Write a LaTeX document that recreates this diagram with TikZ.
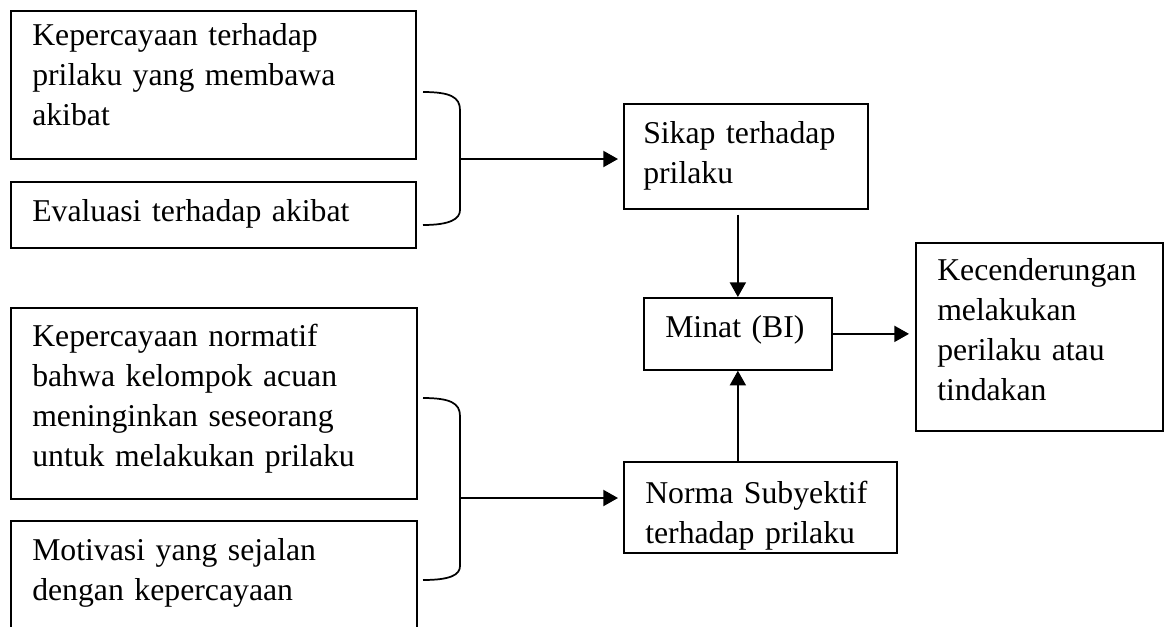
\documentclass[tikz,border=0pt]{standalone}
\usepackage{fontspec}
\setmainfont{Liberation Serif}
\usetikzlibrary{arrows.meta,calc}
\begin{document}
\begin{tikzpicture}[x=0.75pt,y=-0.75pt,
  boxst/.style={draw, line width=1.3pt, inner sep=0pt, anchor=north west},
  txt/.style={anchor=base west, inner sep=0pt, align=left, text width=300pt,
    font=\fontsize{23.8pt}{30pt}\selectfont},
  arr/.style={line width=1.5pt, -{Triangle[length=11pt,width=12pt]}},
  bracest/.style={line width=1.3pt}]
\useasboundingbox (0,0) rectangle (1170,626);
\clip (0,0) rectangle (1170,626);

% boxes
\node[boxst, minimum width=405*0.75pt, minimum height=148*0.75pt] (A) at (10,10) {};
\node[boxst, minimum width=405*0.75pt, minimum height=66*0.75pt] (B) at (10,181) {};
\node[boxst, minimum width=406*0.75pt, minimum height=191*0.75pt] (D) at (10,307) {};
\node[boxst, minimum width=406*0.75pt, minimum height=140*0.75pt] (E) at (10,520) {};
\node[boxst, minimum width=244*0.75pt, minimum height=105*0.75pt] (C) at (623,103) {};
\node[boxst, minimum width=188*0.75pt, minimum height=72*0.75pt] (M) at (643,297) {};
\node[boxst, minimum width=273*0.75pt, minimum height=91*0.75pt] (N) at (623,461) {};
\node[boxst, minimum width=247*0.75pt, minimum height=188*0.75pt] (K) at (915,242) {};

% texts
\node[txt] (At) at (32,45) {Kepercayaan terhadap\\prilaku yang membawa\\akibat};
\node[txt] (Bt) at (32,221) {Evaluasi terhadap akibat};
\node[txt] (Dt) at (32,346) {Kepercayaan normatif\\bahwa kelompok acuan\\meninginkan seseorang\\untuk melakukan prilaku};
\node[txt] (Et) at (32,560) {Motivasi yang sejalan\\dengan kepercayaan};
\node[txt] (Ct) at (643,143) {Sikap terhadap\\prilaku};
\node[txt] (Mt) at (665,337) {Minat (BI)};
\node[txt] (Nt) at (645,503) {Norma Subyektif\\terhadap prilaku};
\node[txt] (Kt) at (937,280) {Kecenderungan\\melakukan\\perilaku atau\\tindakan};

% brackets
\coordinate (b1) at (460,159);
\coordinate (b2) at (460,498);
\draw[bracest] (423,92) .. controls (450,92) and (460,97) .. (460,110) -- (460,210)
  .. controls (460,219) and (450,225) .. (423,225);
\draw[bracest] (423,398) .. controls (450,398) and (460,403) .. (460,416) -- (460,566)
  .. controls (460,575) and (450,580) .. (423,580);

% arrows
\draw[arr, shorten >=3.75pt] (b1) -- (b1 -| C.west);
\draw[arr, shorten >=3.75pt] (b2) -- (b2 -| N.west);
\draw[arr, shorten <=3.75pt] (M.north |- C.south) -- (M.north);
\draw[arr] (M.south |- N.north) -- (M.south);
\draw[arr, shorten >=4.5pt] (M.east) -- (M.east -| K.west);
\end{tikzpicture}
\end{document}
